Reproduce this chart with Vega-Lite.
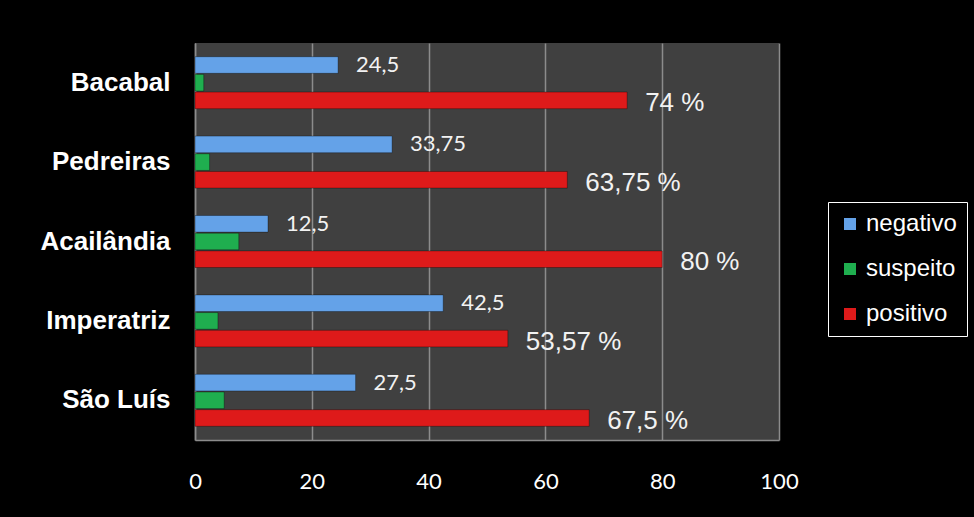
{
  "$schema": "https://vega.github.io/schema/vega-lite/v6.json",
  "width": 584,
  "height": 397,
  "autosize": {"type": "none"},
  "padding": {"left": 195, "top": 43, "right": 195, "bottom": 77},
  "background": "#000000",
  "config": {
    "view": {"fill": "#404040", "stroke": null}
  },
  "data": {
    "values": [
      {"cidade": "Bacabal", "serie": "negativo", "valor": 24.5, "rotulo": "24,5"},
      {"cidade": "Bacabal", "serie": "suspeito", "valor": 1.5, "rotulo": ""},
      {"cidade": "Bacabal", "serie": "positivo", "valor": 74, "rotulo": "74 %"},
      {"cidade": "Pedreiras", "serie": "negativo", "valor": 33.75, "rotulo": "33,75"},
      {"cidade": "Pedreiras", "serie": "suspeito", "valor": 2.5, "rotulo": ""},
      {"cidade": "Pedreiras", "serie": "positivo", "valor": 63.75, "rotulo": "63,75 %"},
      {"cidade": "Acailândia", "serie": "negativo", "valor": 12.5, "rotulo": "12,5"},
      {"cidade": "Acailândia", "serie": "suspeito", "valor": 7.5, "rotulo": ""},
      {"cidade": "Acailândia", "serie": "positivo", "valor": 80, "rotulo": "80 %"},
      {"cidade": "Imperatriz", "serie": "negativo", "valor": 42.5, "rotulo": "42,5"},
      {"cidade": "Imperatriz", "serie": "suspeito", "valor": 3.93, "rotulo": ""},
      {"cidade": "Imperatriz", "serie": "positivo", "valor": 53.57, "rotulo": "53,57 %"},
      {"cidade": "São Luís", "serie": "negativo", "valor": 27.5, "rotulo": "27,5"},
      {"cidade": "São Luís", "serie": "suspeito", "valor": 5, "rotulo": ""},
      {"cidade": "São Luís", "serie": "positivo", "valor": 67.5, "rotulo": "67,5 %"}
    ]
  },
  "encoding": {
    "y": {
      "field": "cidade",
      "type": "nominal",
      "sort": ["Bacabal", "Pedreiras", "Acailândia", "Imperatriz", "São Luís"],
      "scale": {"paddingInner": 0.345, "paddingOuter": 0.1725},
      "axis": {
        "title": null,
        "ticks": false,
        "domainColor": "#8c8c8c",
        "domainWidth": 1.5,
        "labelColor": "#ffffff",
        "labelFont": "Liberation Sans",
        "labelFontWeight": "bold",
        "labelFontSize": 26,
        "labelPadding": 25
      }
    },
    "yOffset": {
      "field": "serie",
      "type": "nominal",
      "sort": ["negativo", "suspeito", "positivo"],
      "scale": {"paddingInner": 0.06}
    },
    "x": {
      "field": "valor",
      "type": "quantitative",
      "scale": {"domain": [0, 100], "nice": false},
      "axis": {
        "title": null,
        "values": [0, 20, 40, 60, 80, 100],
        "grid": true,
        "gridColor": "#8c8c8c",
        "gridWidth": 1.5,
        "domainColor": "#8c8c8c",
        "domainWidth": 1.5,
        "ticks": false,
        "labelFlush": false,
        "labelColor": "#ffffff",
        "labelFont": "Lato",
        "labelFontSize": 22,
        "labelPadding": 31
      }
    }
  },
  "layer": [
    {
      "mark": {"type": "bar", "stroke": "#00000055", "strokeWidth": 1},
      "encoding": {
        "color": {
          "field": "serie",
          "type": "nominal",
          "scale": {
            "domain": ["negativo", "suspeito", "positivo"],
            "range": ["#64a2e8", "#1fae4f", "#de1a1a"]
          },
          "legend": {
            "title": null,
            "orient": "none",
            "legendX": 633,
            "legendY": 159,
            "direction": "vertical",
            "strokeColor": "#ffffff",
            "fillColor": "#000000",
            "padding": 10,
            "symbolType": "square",
            "symbolSize": 144,
            "symbolStrokeWidth": 0,
            "labelFont": "Liberation Sans",
            "labelFontSize": 24,
            "labelColor": "#ffffff",
            "labelOffset": 4,
            "rowPadding": 21,
            "encode": {
              "legend": {"update": {"strokeWidth": {"value": 1.5}}}
            }
          }
        }
      }
    },
    {
      "transform": [{"filter": "datum.serie === 'negativo'"}],
      "mark": {"type": "text", "align": "left", "baseline": "middle", "dx": 18, "font": "Lato", "fontSize": 22, "color": "#f2f2f2"},
      "encoding": {"text": {"field": "rotulo"}}
    },
    {
      "transform": [{"filter": "datum.serie === 'positivo'"}],
      "mark": {"type": "text", "align": "left", "baseline": "middle", "dx": 18, "dy": 3, "font": "Liberation Sans", "fontSize": 26, "color": "#f2f2f2"},
      "encoding": {"text": {"field": "rotulo"}}
    }
  ]
}
